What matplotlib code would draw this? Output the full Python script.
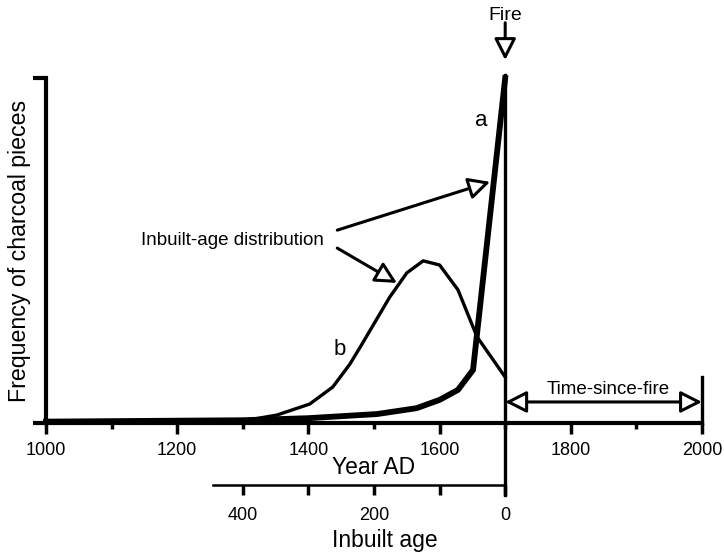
import matplotlib.pyplot as plt
import numpy as np

plt.rcParams['font.family'] = ['Liberation Sans', 'DejaVu Sans']

# curve a: narrow inbuilt age (thick line)
years_a = [1000, 1300, 1400, 1505, 1565, 1600, 1628, 1651, 1700]
freq_a = [0.004, 0.008, 0.014, 0.026, 0.043, 0.067, 0.096, 0.154, 1.0]

# curve b: broad inbuilt age
years_b = [1000, 1300, 1352, 1402, 1437, 1463, 1479, 1524, 1550, 1575, 1600, 1628, 1657, 1700]
freq_b = [0.002, 0.006, 0.023, 0.055, 0.104, 0.17, 0.22, 0.365, 0.435, 0.47, 0.458, 0.386, 0.25, 0.133]

fire_year = 1700
year_ticks = [1000, 1200, 1400, 1600, 1800, 2000]
age_ticks = [0, 100, 200, 300, 400]
age_labels = ['0', '', '200', '', '400']

fig = plt.figure(figsize=(7.24, 5.54), dpi=100)
ax = fig.add_axes([46 / 724, 131 / 554, 656 / 724, 345 / 554])

ax.plot(years_a, freq_a, color='k', lw=4.2, solid_joinstyle='miter', clip_on=False, zorder=3)
ax.plot(years_b, freq_b, color='k', lw=2.4, clip_on=False, zorder=3)

ax.set_xlim(1000, 2000)
ax.set_ylim(0, 1)
for s in ['top', 'right']:
    ax.spines[s].set_visible(False)
for s in ['left', 'bottom']:
    ax.spines[s].set_linewidth(3)
ax.set_xticks(year_ticks)
ax.set_xticks([1100, 1300, 1500, 1700, 1900], minor=True)
ax.set_yticks([0, 1])
ax.set_yticklabels([])
ax.tick_params(axis='x', which='major', length=8, width=2.5, labelsize=13, pad=6)
ax.tick_params(axis='x', which='minor', length=4.5, width=2.5)
ax.tick_params(axis='y', length=9.5, width=3)
ax.set_xlabel('Year AD', fontsize=16.5)
ax.xaxis.set_label_coords(0.5, -0.097)
ax.set_ylabel('Frequency of charcoal pieces', fontsize=16.7, va='center')
ax.yaxis.set_label_coords(-0.041, 0.5)

# fire line
ax.plot([fire_year, fire_year], [-0.209, 1.01], color='k', lw=2.4, clip_on=False, zorder=4)
head = dict(fc='white', ec='black', lw=2.2, mutation_scale=20, shrinkA=0, shrinkB=0)
ax.annotate('', xy=(fire_year, 1.052), xytext=(fire_year, 1.16), annotation_clip=False,
            arrowprops=dict(arrowstyle='-|>,head_length=0.65,head_width=0.33', **head))
ax.text(fire_year, 1.18, 'Fire', ha='center', va='center', fontsize=14)

ax.text(1663, 0.878, 'a', ha='center', va='center', fontsize=16)
ax.text(1448, 0.212, 'b', ha='center', va='center', fontsize=16)

ax.text(1284, 0.53, 'Inbuilt-age distribution', ha='center', va='center', fontsize=13.5)
ax.annotate('', xy=(1677, 0.699), xytext=(1444, 0.559), annotation_clip=False,
            arrowprops=dict(arrowstyle='-|>,head_length=0.65,head_width=0.33', **head))
ax.annotate('', xy=(1535, 0.406), xytext=(1444, 0.507), annotation_clip=False,
            arrowprops=dict(arrowstyle='-|>,head_length=0.65,head_width=0.33', **head))

# time since fire
ax.plot([2000, 2000], [0, 0.133], color='k', lw=2.4, clip_on=False)
ax.annotate('', xy=(2000, 0.061), xytext=(fire_year, 0.061), annotation_clip=False,
            arrowprops=dict(arrowstyle='<|-|>,head_length=0.65,head_width=0.33', **head))
ax.text(1857, 0.096, 'Time-since-fire', ha='center', va='center', fontsize=13.5)

# inbuilt age axis
ax2 = fig.add_axes([46 / 724, 69 / 554, 656 / 724, 0.0001])
ax2.patch.set_visible(False)
ax2.set_xlim(fire_year - 1000, fire_year - 2000)
for s in ['top', 'right', 'left']:
    ax2.spines[s].set_visible(False)
ax2.spines['bottom'].set_linewidth(1.8)
ax2.spines['bottom'].set_bounds(0, 445)
ax2.set_yticks([])
ax2.set_xticks(age_ticks)
ax2.set_xticklabels(age_labels)
ax2.tick_params(axis='x', length=7.5, width=2.5, labelsize=13, pad=8)
fig.text(385 / 724, 1 - 540 / 554, 'Inbuilt age', ha='center', va='center', fontsize=16.5)

fig.savefig('out.png', dpi=100)
